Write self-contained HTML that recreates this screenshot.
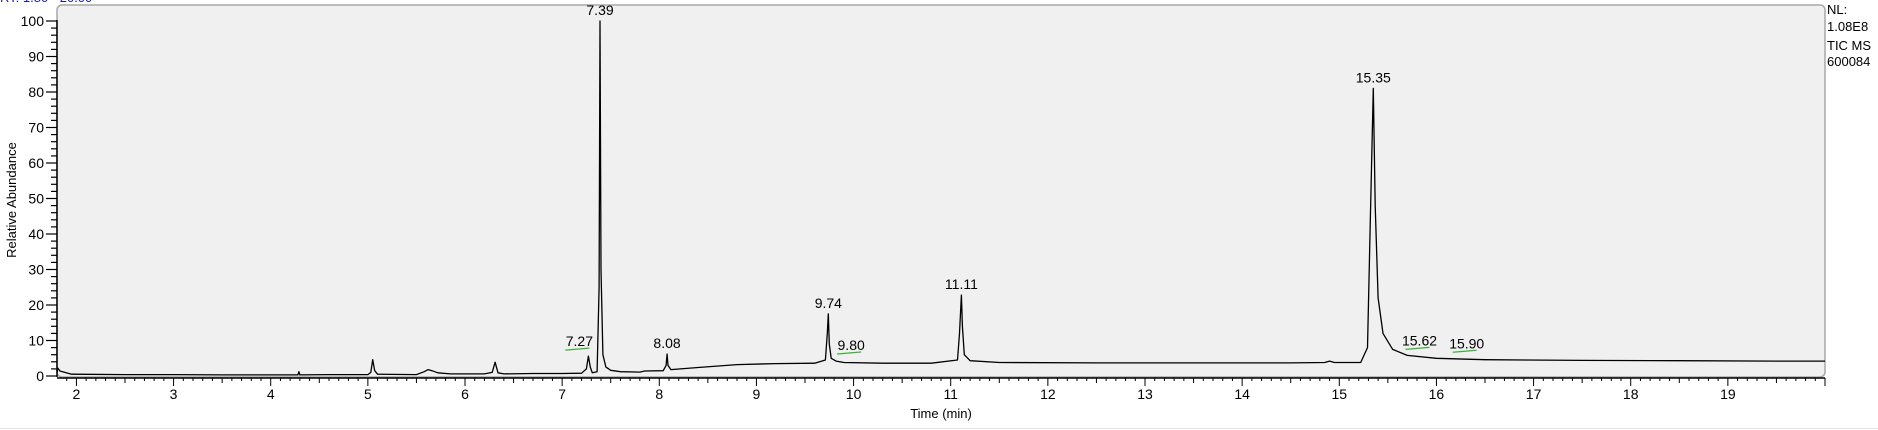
<!DOCTYPE html>
<html><head><meta charset="utf-8">
<style>
html,body{margin:0;padding:0;background:#fff;}
svg{display:block;font-family:"Liberation Sans",sans-serif;}
</style></head>
<body>
<svg id="chart" width="1878" height="430" viewBox="0 0 1878 430" xmlns="http://www.w3.org/2000/svg">
<text x="0" y="2" font-size="13" fill="#1a1aa0">RT: 1.80 - 20.00</text>
<rect x="57" y="5" width="1768" height="372" rx="5" fill="#f0f0f0" stroke="#a8a8a8" stroke-width="1.5"/>
<g id="axes"></g>
<g id="marks"></g>
<text x="1827" y="14" font-size="13" fill="#000">NL:</text>
<text x="1827" y="31" font-size="13" fill="#000">1.08E8</text>
<text x="1827" y="50" font-size="13" fill="#000">TIC  MS</text>
<text x="1827" y="66" font-size="13" fill="#000">600084</text>
<text transform="translate(16,200) rotate(-90)" text-anchor="middle" font-size="13" fill="#000">Relative Abundance</text>
<text x="941" y="418" text-anchor="middle" font-size="13" fill="#000">Time (min)</text>
<line x1="0" y1="428.5" x2="1878" y2="428.5" stroke="#e6e6e6"/>
</svg>
<script>
const times = [1.80,1.81,1.83,1.88,1.95,2.5,3.0,3.5,4.0,4.28,4.29,4.30,4.6,5.0,5.03,5.05,5.07,5.10,5.5,5.58,5.62,5.66,5.72,5.85,6.2,6.28,6.31,6.34,6.4,6.7,7.0,7.2,7.25,7.27,7.29,7.31,7.36,7.38,7.39,7.40,7.42,7.45,7.5,7.6,7.8,7.85,8.04,8.07,8.08,8.09,8.12,8.4,8.8,9.2,9.6,9.71,9.73,9.74,9.75,9.77,9.82,9.9,10.3,10.8,11.07,11.09,11.11,11.12,11.14,11.2,11.5,12.5,13.5,14.5,14.85,14.9,14.95,15.22,15.29,15.32,15.35,15.37,15.40,15.45,15.55,15.7,16.0,16.5,17.5,18.5,19.5,20.0];
const values = [1.0,2.2,1.4,1.0,0.5,0.4,0.4,0.3,0.3,0.3,1.2,0.3,0.4,0.4,1.0,4.6,1.5,0.5,0.4,1.2,1.8,1.5,0.9,0.6,0.6,1.0,3.9,0.9,0.6,0.7,0.7,0.8,2.0,5.6,2.5,0.9,1.2,25,100,30,6,2.5,1.6,1.2,1.1,1.4,1.5,3.0,6.2,3.0,1.8,2.4,3.2,3.5,3.6,4.5,12,17.5,9,5.0,4.2,3.8,3.6,3.6,4.5,12,22.8,14,6,4.3,3.8,3.7,3.7,3.7,3.8,4.2,3.8,3.8,8,45,81,48,22,12,7.5,5.8,5.0,4.6,4.4,4.3,4.2,4.2];
const peakLabels = ["7.27","7.39","8.08","9.74","9.80","11.11","15.35","15.62","15.90"];
const peakTimes = [7.27,7.39,8.08,9.74,9.80,11.11,15.35,15.62,15.90];
const peakValues = [5.6,100,6.2,17.5,4.5,22.8,81,5.8,5.0];
const yTicks = [0,10,20,30,40,50,60,70,80,90,100];
const xTicks = [2,3,4,5,6,7,8,9,10,11,12,13,14,15,16,17,18,19];
const X0=57, X1=1825, TMIN=1.8, TMAX=20.0, Y0=376, Y100=21;
function xs(t){return X0+(t-TMIN)/(TMAX-TMIN)*(X1-X0);}
function ys(v){return Y0-(v/100)*(Y0-Y100);}
const NS="http://www.w3.org/2000/svg";
const axes=document.getElementById('axes'), marks=document.getElementById('marks');
function mk(tag,attrs,parent){const e=document.createElementNS(NS,tag);for(const k in attrs)e.setAttribute(k,attrs[k]);parent.appendChild(e);return e;}
let yl=mk('line',{x1:X0,y1:Y100-1,x2:X0,y2:Y0+1,stroke:'#000','stroke-width':1.5},axes);


for(let v=0;v<=100;v+=2){const major=v%10===0;const l=mk('line',{x1:major?X0-11:X0-6,y1:ys(v),x2:X0,y2:ys(v),stroke:'#000','stroke-width':1.2},axes);

}
yTicks.forEach(v=>{const t=mk('text',{x:X0-13,y:ys(v)+5,'text-anchor':'end','font-size':14,fill:'#000'},axes);t.textContent=String(v);

});
let xl=mk('line',{x1:X0,y1:Y0+2,x2:X1,y2:Y0+2,stroke:'#000','stroke-width':1.5},axes);


for(let i=19;i<=200;i++){const t=i/10;const major=i%10===0,mid=i%5===0;const l=mk('line',{x1:xs(t),y1:Y0+2,x2:xs(t),y2:Y0+2+(major?8:(mid?5:3)),stroke:'#000','stroke-width':1},axes);

}
xTicks.forEach(v=>{const t=mk('text',{x:xs(v),y:Y0+23,'text-anchor':'middle','font-size':14,fill:'#000'},axes);t.textContent=String(v);

});
const pts=times.map((t,i)=>xs(t).toFixed(1)+','+ys(values[i]).toFixed(1)).join(' ');
const pl=mk('polyline',{points:pts,fill:'none',stroke:'#000','stroke-width':1.3,'stroke-linejoin':'round'},marks);


const offsets={"7.27":-9,"9.80":17,"15.62":20,"15.90":40};
peakLabels.forEach((lab,i)=>{const px=xs(peakTimes[i]);const py=ys(peakValues[i]);const dx=offsets[lab]||0;
const t=mk('text',{x:px+dx,y:py-6-(dx?4:0),'text-anchor':'middle','font-size':14,fill:'#000'},marks);t.textContent=lab;


if(dx){const g=mk('line',{x1:px+dx-14,y1:py-6,x2:px+dx+10,y2:py-8,stroke:'#3bb03b','stroke-width':1.2},marks);

}});
</script>
</body></html>
